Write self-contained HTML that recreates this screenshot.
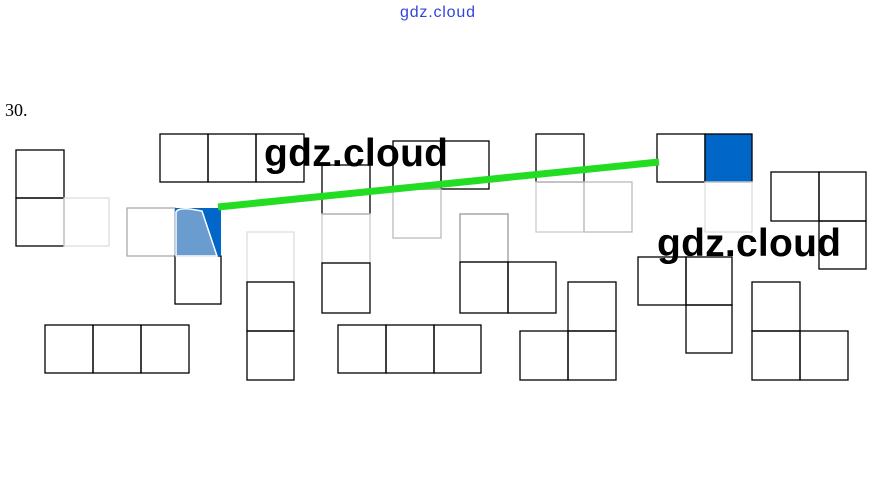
<!DOCTYPE html>
<html><head><style>body{margin:0;background:#fff;width:875px;height:477px;overflow:hidden}</style></head><body>
<svg width="875" height="477" xmlns="http://www.w3.org/2000/svg">
<g fill="none" stroke="#000" stroke-width="1.3">
<rect x="16" y="150" width="48" height="48"/><rect x="16" y="198" width="48" height="48"/><rect x="64" y="198" width="45" height="48" stroke="#ddd"/>
<rect x="160" y="134" width="48" height="48"/><rect x="208" y="134" width="48" height="48"/><rect x="256" y="134" width="48" height="48"/>
<rect x="127" y="208" width="48" height="48" stroke="#aaa"/><rect x="175" y="256" width="46" height="48"/>
<rect x="247" y="232" width="47" height="50" stroke="#ddd"/><rect x="247" y="282" width="47" height="49"/><rect x="247" y="331" width="47" height="49"/>
<rect x="322" y="165" width="48" height="49"/><rect x="322" y="214" width="48" height="49" stroke="#ccc"/><rect x="322" y="263" width="48" height="50"/>
<rect x="393" y="141" width="48" height="48"/><rect x="441" y="141" width="48" height="48"/><rect x="393" y="189" width="48" height="49" stroke="#bbb"/>
<rect x="460" y="214" width="48" height="48" stroke="#999"/><rect x="460" y="262" width="48" height="51"/><rect x="508" y="262" width="48" height="51"/>
<rect x="536" y="134" width="48" height="48"/><rect x="536" y="182" width="48" height="50" stroke="#ccc"/><rect x="584" y="182" width="48" height="50" stroke="#bbb"/>
<rect x="568" y="282" width="48" height="49"/><rect x="520" y="331" width="48" height="49"/><rect x="568" y="331" width="48" height="49"/>
<rect x="657" y="134" width="48" height="48"/><rect x="705" y="134" width="47" height="48" fill="#0066c8"/><rect x="705" y="182" width="47" height="50" stroke="#ddd"/>
<rect x="638" y="257" width="48" height="48"/><rect x="686" y="257" width="46" height="48"/><rect x="686" y="305" width="46" height="48"/>
<rect x="771" y="172" width="48" height="49"/><rect x="819" y="172" width="47" height="49"/><rect x="819" y="221" width="47" height="48"/>
<rect x="752" y="282" width="48" height="49"/><rect x="752" y="331" width="48" height="49"/><rect x="800" y="331" width="48" height="49"/>
<rect x="45" y="325" width="48" height="48"/><rect x="93" y="325" width="48" height="48"/><rect x="141" y="325" width="48" height="48"/>
<rect x="338" y="325" width="48" height="48"/><rect x="386" y="325" width="48" height="48"/><rect x="434" y="325" width="47" height="48"/>
</g>
<rect x="175" y="208" width="46" height="48" fill="#0066c8"/>
<path d="M176 256 L176 212 Q178 208 190 209 L202 211 L217 256 Z" fill="#6a9cd0" stroke="#fff" stroke-width="1.5"/>
<line x1="218" y1="207" x2="659" y2="162" stroke="#22dd22" stroke-width="7"/>
<text x="264" y="166" font-family="Liberation Sans, sans-serif" font-weight="bold" font-size="39" fill="#000" textLength="184">gdz.cloud</text>
<text x="657" y="256" font-family="Liberation Sans, sans-serif" font-weight="bold" font-size="39" fill="#000" textLength="184">gdz.cloud</text>
<text x="400" y="17" font-family="Liberation Sans, sans-serif" font-size="16" fill="#3344dd" textLength="75">gdz.cloud</text>
<text x="5" y="116" font-family="Liberation Serif, serif" font-size="18" fill="#000">30.</text>
</svg>
</body></html>
